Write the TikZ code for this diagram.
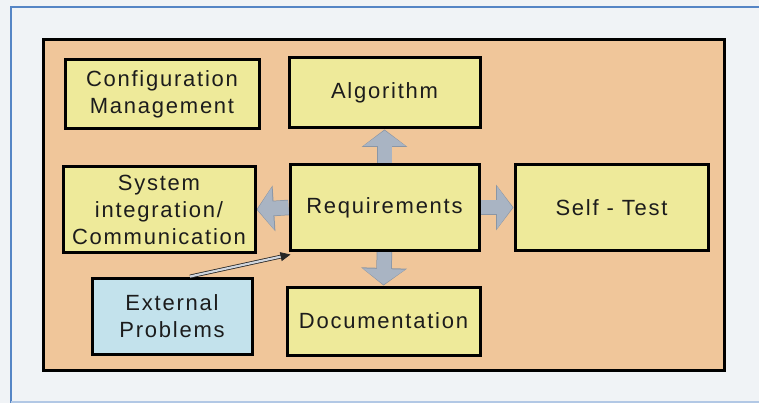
\documentclass[tikz,border=0pt]{standalone}
\usepackage{fontspec}
\setmainfont{Liberation Sans}[LetterSpace=8]
\usetikzlibrary{arrows.meta}

\definecolor{pagebg}{HTML}{F0F3F6}
\definecolor{rulecol}{HTML}{5585C5}
\definecolor{frameorange}{HTML}{F0C69A}
\definecolor{boxyellow}{HTML}{EEEA9A}
\definecolor{boxblue}{HTML}{C3E2EC}
\definecolor{flowgray}{HTML}{A9B4C3}
\definecolor{flowedge}{HTML}{8A96A6}
\definecolor{textcol}{HTML}{1C1C1C}

\pgfdeclarelayer{back}
\pgfdeclarelayer{mid}
\pgfsetlayers{back,mid,main}

\tikzset{
  box/.style={draw=black, line width=3pt, fill=boxyellow, align=center,
    inner sep=0pt, text=textcol,
    font=\fontsize{22}{27}\selectfont},
  extbox/.style={box, fill=boxblue},
  flowedge/.style={draw=flowedge, line width=15.5pt,
    -{Triangle[width=45pt,length=17.5pt]}},
  flow/.style={draw=flowgray, line width=14pt,
    -{Triangle[width=41.5pt,length=15.5pt]}, shorten >=1pt},
  feed/.style={draw=black!85, line width=0.8pt, double=flowgray!55,
    double distance=2.2pt, -{Triangle[width=9pt,length=10pt]}}
}

\begin{document}
\begin{tikzpicture}[x=1pt,y=-1pt]
  \useasboundingbox (0,0) rectangle (759,403);
  \begin{pgfonlayer}{back}
    \fill[pagebg] (0,0) rectangle (759,403);
    % page rules
    \draw[rulecol, line width=2pt] (11,403) -- (11,7) -- (759,7);
    \draw[rulecol!45, line width=2pt] (11,402) -- (759,402);
    % enclosing frame
    \draw[fill=frameorange, line width=3pt] (43,40) rectangle (724,370);
  \end{pgfonlayer}

  % boxes
  \node[box, minimum width=194pt, minimum height=69pt] (cfg) at (162,94.5)
    {Configuration\\Management};
  \node[box, minimum width=191pt, minimum height=70pt] (alg) at (384.5,93)
    {Algorithm};
  \node[box, minimum width=192pt, minimum height=85pt] (sys) at (159,209.5)
    {System\\integration/\\Communication};
  \node[box, minimum width=189pt, minimum height=85pt] (req) at (384.5,207.5)
    {Requirements};
  \node[box, minimum width=193pt, minimum height=85pt] (self) at (611.5,207.5)
    {Self - Test};
  \node[extbox, minimum width=160pt, minimum height=76pt] (ext) at (172,316)
    {External\\Problems};
  \node[box, minimum width=193pt, minimum height=68pt] (doc) at (383.5,321)
    {Documentation};

  % block arrows leaving the requirements box: a darker rim, then the body
  \begin{pgfonlayer}{mid}
    \foreach \s in {flowedge, flow} {
      \draw[\s] (req.north) -- (alg.south);
      \draw[\s] (req.south) -- (doc.north);
      \draw[\s] (req.west) -- (sys.east);
      \draw[\s] (req.east) -- (self.west);
    }
  \end{pgfonlayer}

  % external input
  \coordinate (extout) at ([xshift=18pt]ext.north);
  \draw[feed] (extout) -- ([shift={(2pt,-3pt)}]req.south west);
\end{tikzpicture}
\end{document}
